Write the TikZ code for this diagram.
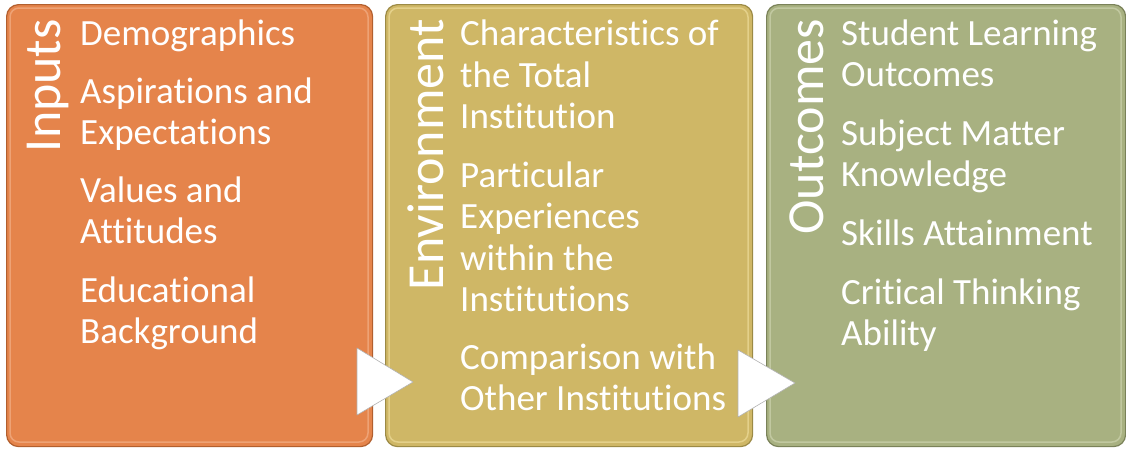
\documentclass[tikz,border=0pt]{standalone}
\usepackage{fontspec}
\setmainfont{Carlito}[Ligatures={NoCommon}]
\usetikzlibrary{shapes.geometric}
\definecolor{inA}{HTML}{E5844B}
\definecolor{inAd}{HTML}{B25F2E}
\definecolor{inAl}{HTML}{F2B088}
\definecolor{enB}{HTML}{CFB766}
\definecolor{enBd}{HTML}{9C8A45}
\definecolor{enBl}{HTML}{EDDC9A}
\definecolor{ouC}{HTML}{A8B181}
\definecolor{ouCd}{HTML}{7A8259}
\definecolor{ouCl}{HTML}{CDD3AE}
\tikzset{
  panel/.style={draw=#1, line width=1.2pt, rounded corners=12pt, anchor=north west, inner sep=0pt},
  hilite/.style={draw=#1, line width=1.5pt, rounded corners=9pt, opacity=0.7},
  itemtxt/.style={anchor=base west, inner sep=0pt, text=white, font=\fontsize{37}{41}\selectfont},
  titletxt/.style={anchor=base east, rotate=90, inner sep=0pt, text=white, font=\fontsize{52}{58}\selectfont},
  flowarrow/.style={fill=white, draw=black!30, line width=0.6pt, line join=round}
}
\begin{document}
\begin{tikzpicture}[x=1pt,y=-1pt]
\useasboundingbox (0,0) rectangle (1126,450);
\fill[white] (0,0) rectangle (1126,450);
% panels
\node[panel=inAd, fill=inA, minimum width=366pt, minimum height=442pt] (inputs) at (6,4) {};
\node[panel=enBd, fill=enB, minimum width=367pt, minimum height=442pt] (environment) at (385,4) {};
\node[panel=ouCd, fill=ouC, minimum width=359pt, minimum height=442pt] (outcomes) at (766,4) {};
\draw[hilite=inAl] (10,8) rectangle (368,442);
\draw[hilite=enBl] (389,8) rectangle (748,442);
\draw[hilite=ouCl] (770,8) rectangle (1121,442);
% titles
\node[titletxt] (tInputs) at (60,19) {Inputs};
\node[titletxt] (tEnv) at (443,19) {Environment};
\node[titletxt] (tOut) at (823,19) {Outcomes};
% box 1 items
\node[itemtxt] (a1) at (80,45) {Demographics};
\node[itemtxt] (a2) at (80,103) {Aspirations and};
\node[itemtxt] (a3) at (80,144) {Expectations};
\node[itemtxt] (a4) at (80,202) {Values and};
\node[itemtxt] (a5) at (80,243) {Attitudes};
\node[itemtxt] (a6) at (80,302) {Educational};
\node[itemtxt] (a7) at (80,343) {Background};
% box 2 items
\node[itemtxt] (b1) at (460,45) {Characteristics of};
\node[itemtxt] (b2) at (460,87) {the Total};
\node[itemtxt] (b3) at (460,128) {Institution};
\node[itemtxt] (b4) at (460,187) {Particular};
\node[itemtxt] (b5) at (460,228) {Experiences};
\node[itemtxt] (b6) at (460,270) {within the};
\node[itemtxt] (b7) at (460,311) {Institutions};
\node[itemtxt] (b8) at (460,369) {Comparison with};
\node[itemtxt] (b9) at (460,410) {Other Institutions};
% box 3 items
\node[itemtxt] (c1) at (841,45) {Student Learning};
\node[itemtxt] (c2) at (841,86) {Outcomes};
\node[itemtxt] (c3) at (841,145) {Subject Matter};
\node[itemtxt] (c4) at (841,186) {Knowledge};
\node[itemtxt] (c5) at (841,245) {Skills Attainment};
\node[itemtxt] (c6) at (841,304) {Critical Thinking};
\node[itemtxt] (c7) at (841,345) {Ability};
% arrows
\coordinate (ar1a) at (357,348);
\coordinate (ar1b) at (357,415);
\coordinate (ar1t) at (413,382);
\coordinate (ar2a) at (738,350);
\coordinate (ar2b) at (738,417);
\coordinate (ar2t) at (795,383);
\draw[flowarrow] (ar1a) -- (ar1t) -- (ar1b) -- cycle;
\draw[flowarrow] (ar2a) -- (ar2t) -- (ar2b) -- cycle;
\end{tikzpicture}
\end{document}
